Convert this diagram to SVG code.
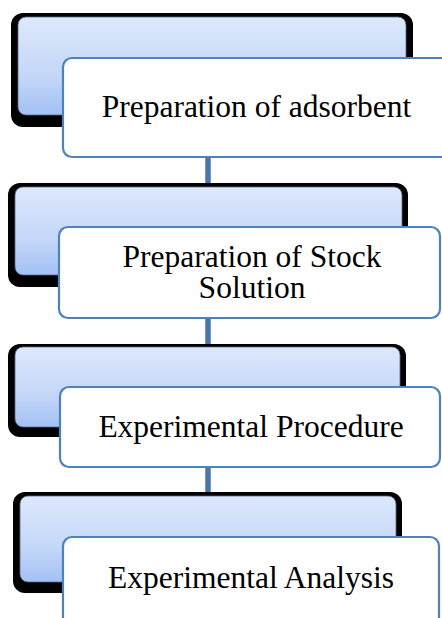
<svg xmlns="http://www.w3.org/2000/svg" width="442" height="618" viewBox="0 0 442 618">
<defs>
<linearGradient id="g" x1="0" y1="0" x2="0" y2="1">
<stop offset="0" stop-color="#dde8fb"/>
<stop offset="0.6" stop-color="#c4d7f8"/>
<stop offset="1" stop-color="#a3c1f5"/>
</linearGradient>
</defs>
<style>
.sh{fill:#000}
.bk{fill:url(#g);stroke:#5a6b85;stroke-width:0.8}
.fr{fill:#fff;stroke:#4f81bd;stroke-width:2.2}
.t{font-family:"Liberation Serif","Times New Roman",serif;font-size:31.5px;fill:#000;text-anchor:middle}
.c{stroke:#4a74aa;stroke-width:5.5;fill:none}
</style>
<g id="connectors">
<line class="c" x1="208" y1="157" x2="208" y2="184"/>
<line class="c" x1="208" y1="318" x2="208" y2="345"/>
<line class="c" x1="208" y1="467" x2="208" y2="493"/>
</g>
<g id="node1">
<rect class="sh" x="11" y="13" width="402" height="114" rx="12"/>
<rect class="bk" x="18" y="17" width="388" height="98" rx="8"/>
<rect class="fr" x="63" y="58" width="400" height="99" rx="9"/>
<text class="t" x="256.5" y="117">Preparation of adsorbent</text>
</g>
<g id="node2">
<rect class="sh" x="8" y="183" width="400" height="104" rx="12"/>
<rect class="bk" x="15" y="187" width="387" height="88" rx="8"/>
<rect class="fr" x="59" y="227" width="381" height="91" rx="9"/>
<text class="t" x="252" y="267">Preparation of Stock<tspan x="252" dy="31">Solution</tspan></text>
</g>
<g id="node3">
<rect class="sh" x="8" y="344" width="398" height="93" rx="12"/>
<rect class="bk" x="15" y="347" width="385" height="80" rx="8"/>
<rect class="fr" x="60" y="387" width="380" height="80" rx="9"/>
<text class="t" x="251" y="437">Experimental Procedure</text>
</g>
<g id="node4">
<rect class="sh" x="13" y="492" width="389" height="101" rx="12"/>
<rect class="bk" x="20" y="496" width="376" height="86" rx="8"/>
<rect class="fr" x="63" y="537" width="376" height="110" rx="9"/>
<text class="t" x="251" y="588">Experimental Analysis</text>
</g>
</svg>
